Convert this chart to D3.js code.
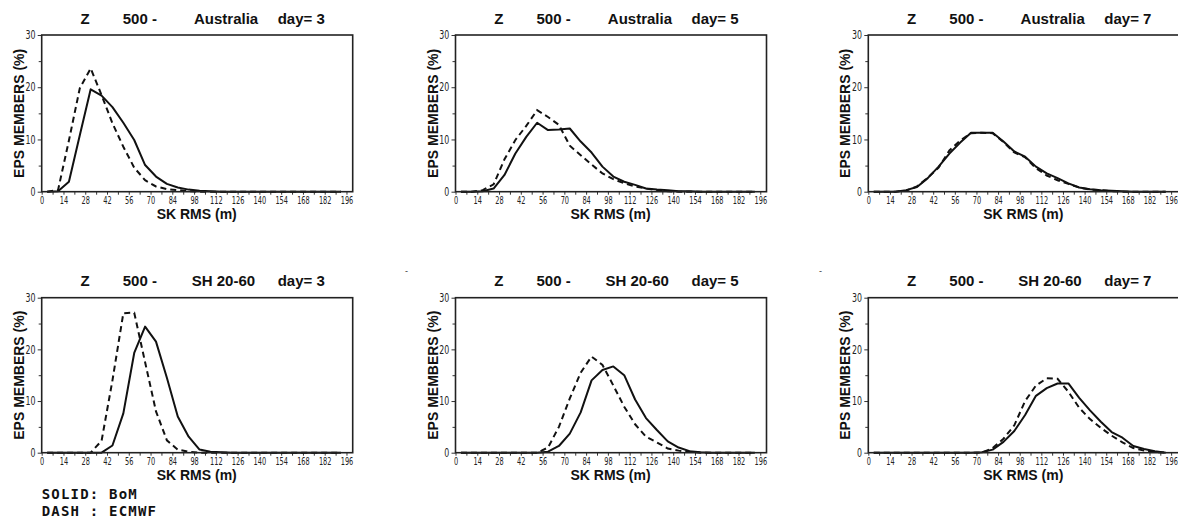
<!DOCTYPE html>
<html>
<head>
<meta charset="utf-8">
<script src="https://cdn.jsdelivr.net/npm/d3@7"></script>
<style>
  html, body { margin: 0; padding: 0; background: #fff; }
  svg { display: block; }
</style>
</head>
<body>
<svg id="chart" width="1178" height="519"></svg>
<script>
// ---------------- DATA ----------------
const binCenters = [3.5, 10.5, 17.5, 24.5, 31.5, 38.5, 45.5, 52.5, 59.5, 66.5, 73.5, 80.5, 87.5, 94.5,
                    101.5, 108.5, 115.5, 122.5, 129.5, 136.5, 143.5, 150.5, 157.5, 164.5, 171.5, 178.5, 185.5, 192.5];
const xTickLabels = [0, 14, 28, 42, 56, 70, 84, 98, 112, 126, 140, 154, 168, 182, 196];
const xMinorTicks = [7, 21, 35, 49, 63, 77, 91, 105, 119, 133, 147, 161, 175, 189];
const yTickLabels = [0, 10, 20, 30];
const yMinorTicks = [5, 15, 25];

const panelRegions = ["Australia", "Australia", "Australia", "SH 20-60", "SH 20-60", "SH 20-60"];
const panelDays = [3, 5, 7, 3, 5, 7];

// SOLID: BoM, DASH: ECMWF  (EPS members %, per SK RMS bin)
const ausDay3Bom   = [0,0.1,1.9,10.8,19.6,18.4,16.2,13.2,9.9,5.1,2.9,1.5,0.8,0.4,0.2,0.1,0,0,0,0,0,0,0,0,0,0,0,0];
const ausDay3Ecmwf = [0,0.3,9.8,19.8,23.6,18.5,13.1,8.6,4.6,2.2,1.0,0.5,0.3,0.1,0,0,0,0,0,0,0,0,0,0,0,0,0,0];
const ausDay5Bom   = [0,0,0.1,0.6,3.2,7.3,10.5,13.2,11.8,11.9,12.1,9.6,7.5,4.8,2.9,1.9,1.3,0.6,0.4,0.3,0.1,0.1,0,0,0,0,0,0];
const ausDay5Ecmwf = [0,0,0.3,1.4,6.2,9.9,12.6,15.6,14.3,12.8,8.8,7.0,5.2,3.5,2.4,1.6,1.0,0.6,0.3,0.1,0,0,0,0,0,0,0,0];
const ausDay7Bom   = [0,0,0,0.3,0.9,2.6,4.8,7.3,9.4,11.3,11.3,11.3,9.6,7.7,6.7,4.8,3.5,2.6,1.6,0.8,0.45,0.3,0.2,0.1,0,0,0,0];
const ausDay7Ecmwf = [0,0,0,0.2,1.0,2.7,4.6,7.9,9.8,11.2,11.3,11.2,9.5,7.5,6.6,4.5,3.1,2.2,1.5,0.8,0.4,0.3,0.1,0,0,0,0,0];
const shDay3Bom    = [0,0,0,0,0,0,1.4,7.6,19.3,24.4,21.5,14.5,7.0,3.1,0.6,0.2,0.1,0,0,0,0,0,0,0,0,0,0,0];
const shDay3Ecmwf  = [0,0,0,0,0,2.3,14.0,27.0,27.1,17.5,8.0,2.4,0.6,0.2,0,0,0,0,0,0,0,0,0,0,0,0,0,0];
const shDay5Bom    = [0,0,0,0,0,0,0,0,0.2,1.3,3.7,7.8,14.0,16.0,16.7,15.0,10.3,6.7,4.4,2.2,1.0,0.3,0.1,0,0,0,0,0];
const shDay5Ecmwf  = [0,0,0,0,0,0,0,0,1.0,5.0,10.5,15.5,18.6,17.0,13.0,8.9,5.5,3.1,2.0,0.8,0.4,0.2,0,0,0,0,0,0];
const shDay7Bom    = [0,0,0,0,0,0,0,0,0,0,0.1,0.6,2.1,4.2,7.3,11.0,12.5,13.4,13.4,10.6,8.2,6.0,4.0,2.9,1.3,0.7,0.3,0];
const shDay7Ecmwf  = [0,0,0,0,0,0,0,0,0,0,0,0.9,2.7,5.3,10.0,13.0,14.4,14.3,11.8,8.7,6.5,4.8,3.3,2.0,0.9,0.4,0.1,0];

const bomSeries   = [ausDay3Bom, ausDay5Bom, ausDay7Bom, shDay3Bom, shDay5Bom, shDay7Bom];
const ecmwfSeries = [ausDay3Ecmwf, ausDay5Ecmwf, ausDay7Ecmwf, shDay3Ecmwf, shDay5Ecmwf, shDay7Ecmwf];

// ---------------- LAYOUT ----------------
const colLefts = [41.7, 455.5, 868.3];
const colWidths = [311, 311, 309];
const rowTops = [35, 297.7];
const rowHeights = [156.7, 155];
const SANS = "'Liberation Sans', Arial, Helvetica, sans-serif";
const NARROW = "'Liberation Sans Narrow', 'Arial Narrow', 'DejaVu Sans Condensed', 'Liberation Sans', sans-serif";

const svg = d3.select("#chart");

// condense a label to a target width per character
function condense(sel, perChar, anchorEndX) {
  sel.each(function(d) {
    const t = d3.select(this);
    const w = this.getComputedTextLength();
    const target = String(d).length * perChar;
    if (w > target * 1.03) {
      const s = target / w;
      t.attr("transform", `scale(${s},1)`);
      if (anchorEndX !== undefined) t.attr("x", anchorEndX / s);
    } else if (anchorEndX !== undefined) {
      t.attr("x", anchorEndX);
    }
  });
}

for (let p = 0; p < 6; p++) {
  const col = p % 3, row = Math.floor(p / 3);
  const left = colLefts[col], top = rowTops[row], h = rowHeights[row], plotW = colWidths[col];
  const g = svg.append("g").attr("transform", `translate(${left},${top})`);

  const x = d3.scaleLinear().domain([0, 200]).range([0, plotW]);
  const y = d3.scaleLinear().domain([0, 30]).range([h, 0]);

  // x axis ticks
  const xAx = g.append("g").attr("transform", `translate(0,${h})`)
    .call(d3.axisBottom(x).tickValues(xTickLabels).tickSize(3).tickPadding(1.7));
  const xMin = g.append("g").attr("transform", `translate(0,${h})`)
    .call(d3.axisBottom(x).tickValues(xMinorTicks).tickSize(3).tickFormat(""));
  // y axis ticks
  const yAx = g.append("g")
    .call(d3.axisLeft(y).tickValues(yTickLabels).tickSize(4).tickPadding(1));
  const yMin = g.append("g")
    .call(d3.axisLeft(y).tickValues(yMinorTicks).tickSize(3).tickFormat(""));

  [xAx, xMin, yAx, yMin].forEach(a => {
    a.select(".domain").remove();
    a.selectAll(".tick line").attr("stroke", "#333").attr("stroke-width", 1);
  });
  xAx.selectAll(".tick text")
    .style("font-family", NARROW).style("font-size", "11px").attr("fill", "#222")
    .call(condense, 4.2);
  yAx.selectAll(".tick text")
    .style("font-family", NARROW).style("font-size", "11.5px").attr("fill", "#222")
    .call(condense, 5.0, -6.3);

  // lines
  const line = d3.line().x((d, i) => x(binCenters[i])).y(d => y(d));
  g.append("path").datum(bomSeries[p])
    .attr("fill", "none").attr("stroke", "#111").attr("stroke-width", 2)
    .attr("stroke-linejoin", "round")
    .attr("d", line);
  g.append("path").datum(ecmwfSeries[p])
    .attr("fill", "none").attr("stroke", "#111").attr("stroke-width", 2)
    .attr("stroke-dasharray", "6,4")
    .attr("d", line);

  // frame
  g.append("rect").attr("x", 0).attr("y", 0).attr("width", 311).attr("height", h)
    .attr("fill", "none").attr("stroke", "#222").attr("stroke-width", 1.6);

  // title
  const tY = -11.5;
  const tStyle = sel => sel.style("font-family", SANS).style("font-size", "15px")
    .style("font-weight", "bold").attr("fill", "#111");
  g.append("text").attr("x", 43.3).attr("y", tY).attr("text-anchor", "middle").text("Z").call(tStyle);
  g.append("text").attr("x", 81).attr("y", tY).text("500 -").call(tStyle);
  g.append("text").attr("x", row === 0 ? 152.3 : 150).attr("y", tY).text(panelRegions[p]).call(tStyle);
  g.append("text").attr("x", 236).attr("y", tY).text("day= " + panelDays[p]).call(tStyle);

  // axis titles
  g.append("text").attr("x", 311 / 2 - 0.5).attr("y", h + 27.7).attr("text-anchor", "middle")
    .style("font-family", SANS).style("font-size", "14px").style("font-weight", "bold")
    .attr("fill", "#111").text("SK RMS (m)");
  g.append("text").attr("transform", `translate(-18,${h / 2}) rotate(-90)`).attr("text-anchor", "middle")
    .style("font-family", SANS).style("font-size", "14px").style("font-weight", "bold")
    .attr("fill", "#111").text("EPS MEMBERS (%)");
}

// small stray marks
svg.append("text").attr("x", 405).attr("y", 274).style("font-family", SANS).style("font-size", "9px").attr("fill", "#333").text("-");
svg.append("text").attr("x", 819).attr("y", 274).style("font-family", SANS).style("font-size", "9px").attr("fill", "#333").text("-");

// legend
const legendLines = ["SOLID: BoM", "DASH : ECMWF"];
svg.selectAll("text.legend").data(legendLines).enter().append("text")
  .attr("class", "legend")
  .attr("x", 41.7).attr("y", (d, i) => 499.3 + i * 16.3)
  .style("font-family", "'DejaVu Sans Mono', 'Liberation Mono', monospace")
  .style("font-size", "14px").style("font-weight", "bold").style("letter-spacing", "1.2px")
  .attr("fill", "#111")
  .style("white-space", "pre")
  .text(d => d);
</script>
</body>
</html>
